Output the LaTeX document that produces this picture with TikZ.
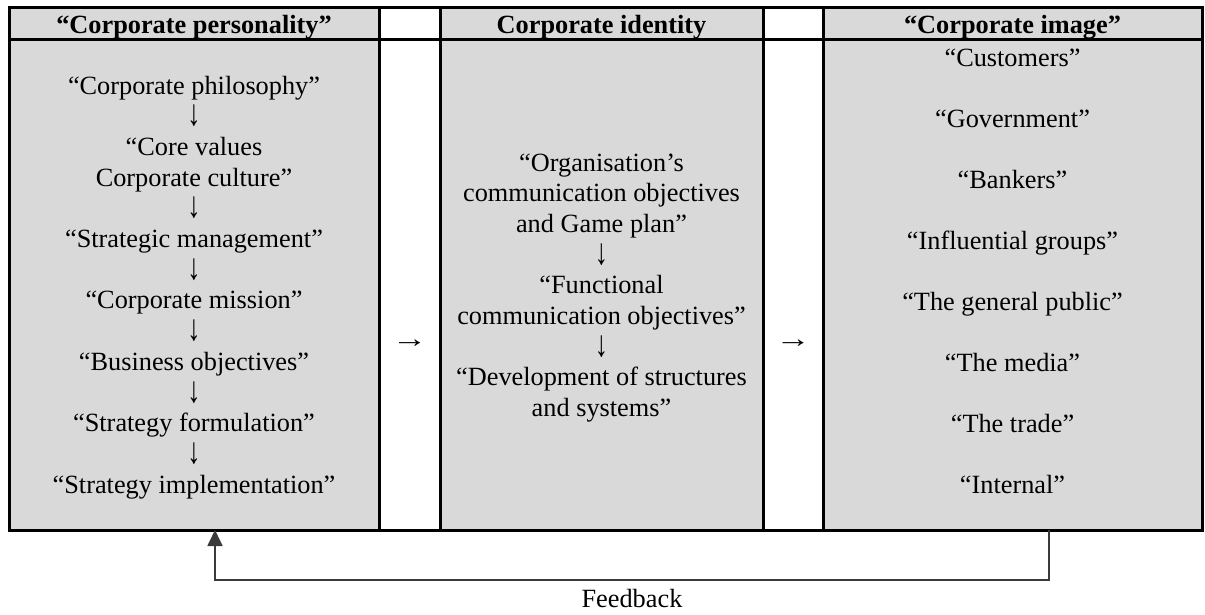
\documentclass[tikz,border=0pt]{standalone}
\usepackage{fontspec}
\setmainfont{Liberation Serif}
\usetikzlibrary{arrows.meta}
\definecolor{cellgrey}{HTML}{D9D9D9}
\definecolor{fbgrey}{HTML}{3A3A3A}
\newcommand{\dnarrow}{\raisebox{-1pt}{\scalebox{1}[1.4]{↓}}}
\newcommand{\rtarrow}{\scalebox{1.35}[1]{→}}
\begin{document}
\begin{tikzpicture}[x=1pt,y=-1pt,
  cell/.style={draw=none,fill=cellgrey,inner sep=0pt,outer sep=0pt},
  txt/.style={anchor=base,inner sep=0pt,font=\fontsize{26.3}{30}\selectfont},
  head/.style={anchor=base,inner sep=0pt,font=\fontsize{26.3}{30}\selectfont\bfseries},
  rule/.style={line width=3pt},
  fb/.style={line width=1.8pt,draw=fbgrey,-{Triangle[width=15pt,length=16pt]}}]
\useasboundingbox (0,0) rectangle (1205,614);

% shaded cells
\node[cell,minimum width=370pt,minimum height=32pt]  (phead) at (194,23) {};
\node[cell,minimum width=323pt,minimum height=32pt]  (ihead) at (601.5,23) {};
\node[cell,minimum width=379pt,minimum height=32pt]  (mhead) at (1012.5,23) {};
\node[cell,minimum width=370pt,minimum height=491pt] (pbody) at (194,284.5) {};
\node[cell,minimum width=323pt,minimum height=491pt] (ibody) at (601.5,284.5) {};
\node[cell,minimum width=379pt,minimum height=491pt] (mbody) at (1012.5,284.5) {};

% table rules
\draw[rule] (9,7) rectangle (1202,530);
\draw[rule] (9,39) -- (1202,39);
\foreach \x in {379,440,763,823} \draw[rule] (\x,7) -- (\x,530);

% headings
\node[head] (hp) at (194,33) {“Corporate personality”};
\node[head] (hi) at (601.5,33) {Corporate identity};
\node[head] (hm) at (1012.5,33) {“Corporate image”};

% corporate personality
\node[txt] (p1)  at (194,94)    {“Corporate philosophy”};
\node[txt] (a1)  at (194,124.7) {\dnarrow};
\node[txt] (p2)  at (194,155.4) {“Core values};
\node[txt] (p3)  at (194,186.1) {Corporate culture”};
\node[txt] (a2)  at (194,216.8) {\dnarrow};
\node[txt] (p4)  at (194,247.5) {“Strategic management”};
\node[txt] (a3)  at (194,278.2) {\dnarrow};
\node[txt] (p5)  at (194,308.9) {“Corporate mission”};
\node[txt] (a4)  at (194,339.6) {\dnarrow};
\node[txt] (p6)  at (194,370.3) {“Business objectives”};
\node[txt] (a5)  at (194,401)   {\dnarrow};
\node[txt] (p7)  at (194,431.7) {“Strategy formulation”};
\node[txt] (a6)  at (194,462.4) {\dnarrow};
\node[txt] (p8)  at (194,493.1) {“Strategy implementation”};

% corporate identity
\node[txt] (i1) at (601.5,171)   {“Organisation’s};
\node[txt] (i2) at (601.5,201.7) {communication objectives};
\node[txt] (i3) at (601.5,232.4) {and Game plan”};
\node[txt] (b1) at (601.5,263.1) {\dnarrow};
\node[txt] (i4) at (601.5,293.8) {“Functional};
\node[txt] (i5) at (601.5,324.5) {communication objectives”};
\node[txt] (b2) at (601.5,355.2) {\dnarrow};
\node[txt] (i6) at (601.5,385.9) {“Development of structures};
\node[txt] (i7) at (601.5,416.6) {and systems”};

% corporate image
\node[txt] (m1) at (1012.5,66)  {“Customers”};
\node[txt] (m2) at (1012.5,127) {“Government”};
\node[txt] (m3) at (1012.5,188) {“Bankers”};
\node[txt] (m4) at (1012.5,249) {“Influential groups”};
\node[txt] (m5) at (1012.5,310) {“The general public”};
\node[txt] (m6) at (1012.5,371) {“The media”};
\node[txt] (m7) at (1012.5,432) {“The trade”};
\node[txt] (m8) at (1012.5,493) {“Internal”};

% arrows between the columns
\node[txt] (r1) at (409.5,347) {\rtarrow};
\node[txt] (r2) at (793,347)   {\rtarrow};

% feedback loop
\draw[fb] ([xshift=36.5pt]mbody.south) -- ++(0,50) -| ([xshift=21pt]pbody.south);
\node[txt] (fbl) at (632,607) {Feedback};
\end{tikzpicture}
\end{document}
